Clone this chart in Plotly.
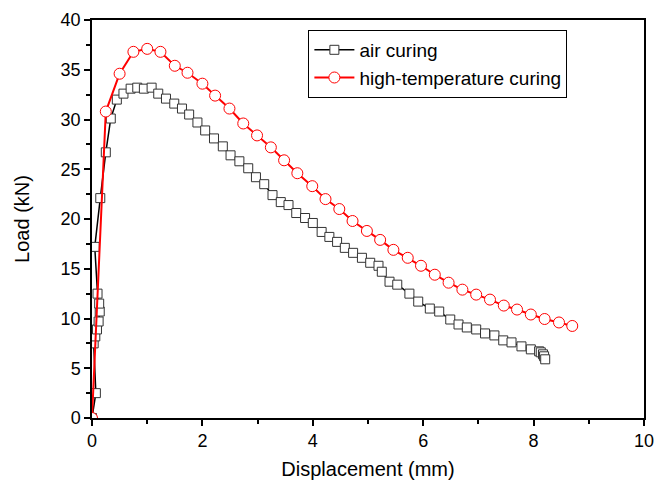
import plotly.graph_objects as go

air_x = [0.0, 0.07, 0.03, 0.06, 0.09, 0.12, 0.14, 0.13, 0.10, 0.05, 0.15, 0.25, 0.34, 0.45, 0.57, 0.70, 0.82, 0.94,
         1.08, 1.20, 1.34, 1.49, 1.63, 1.76, 1.91, 2.05, 2.21, 2.37, 2.51, 2.67, 2.83, 2.97, 3.12,
         3.27, 3.42, 3.56, 3.70, 3.86, 4.00, 4.16, 4.30, 4.44, 4.58, 4.73, 4.89, 5.04, 5.19,
         5.25, 5.39, 5.53, 5.75, 5.91, 6.12, 6.29, 6.49, 6.64, 6.79, 6.96, 7.12, 7.29, 7.45,
         7.60, 7.78, 7.95, 8.10, 8.13, 8.17, 8.19, 8.21]
air_y = [0.0, 2.5, 7.5, 8.2, 8.9, 9.7, 10.7, 11.5, 12.5, 17.2, 22.1, 26.7, 30.1, 32.0, 32.6, 33.1, 33.2, 33.1,
         33.2, 32.6, 32.1, 31.6, 31.1, 30.5, 29.7, 28.9, 28.1, 27.3, 26.4, 25.8, 25.1, 24.2, 23.5,
         22.4, 21.7, 21.4, 20.6, 20.1, 19.6, 18.7, 18.2, 17.7, 17.1, 16.6, 16.1, 15.6, 15.3,
         14.7, 13.7, 13.4, 12.5, 11.7, 11.0, 10.7, 9.9, 9.4, 9.1, 8.9, 8.5, 8.3, 7.8,
         7.6, 7.2, 6.9, 6.7, 6.6, 6.4, 6.2, 5.9]

ht_x = [0.0, 0.25, 0.50, 0.75, 1.00, 1.24, 1.50, 1.73, 2.00, 2.23, 2.49, 2.74, 2.99, 3.24, 3.48, 3.72,
        3.99, 4.23, 4.48, 4.72, 4.98, 5.22, 5.46, 5.72, 5.96, 6.21, 6.46, 6.71, 6.96, 7.21, 7.46,
        7.70, 7.95, 8.20, 8.46, 8.70]
ht_y = [0.0, 30.8, 34.6, 36.8, 37.1, 36.8, 35.4, 34.7, 33.6, 32.4, 31.1, 29.6, 28.4, 27.2, 25.9, 24.6,
        23.3, 22.0, 21.0, 19.8, 18.8, 17.9, 16.9, 16.1, 15.3, 14.4, 13.6, 12.9, 12.4, 11.9, 11.3,
        10.9, 10.4, 9.95, 9.6, 9.25]

series_names = ["air curing", "high-temperature curing"]

x_ticks = [0, 2, 4, 6, 8, 10]
y_ticks = [0, 5, 10, 15, 20, 25, 30, 35, 40]

font = "Liberation Sans, Arial, sans-serif"

fig = go.Figure()
fig.add_trace(go.Scatter(
    x=air_x, y=air_y, name=series_names[0], mode="lines+markers",
    line=dict(color="black", width=1.5),
    marker=dict(symbol="square", size=9, color="white",
                line=dict(color="#333333", width=1)),
))
fig.add_trace(go.Scatter(
    x=ht_x, y=ht_y, name=series_names[1], mode="lines+markers",
    line=dict(color="red", width=2),
    marker=dict(symbol="circle", size=11, color="white",
                line=dict(color="red", width=1)),
))

axis_common = dict(
    showgrid=False, zeroline=False, showline=True, linecolor="black", linewidth=1.5,
    mirror=True, ticks="outside", ticklen=6, tickwidth=1.5, tickcolor="black",
    tickfont=dict(family=font, size=18, color="black"), automargin=False,
    ticklabeloverflow="allow",
)

fig.update_xaxes(
    range=[0, 10], tickvals=x_ticks, ticktext=[str(v) for v in x_ticks],
    title=dict(text="Displacement (mm)", font=dict(family=font, size=20, color="black"), standoff=12),
    minor=dict(dtick=1, ticks="outside", ticklen=4, tickwidth=1.5, tickcolor="black"),
    **axis_common,
)
fig.update_yaxes(
    range=[0, 40], tickvals=y_ticks, ticktext=[str(v) for v in y_ticks],
    title=dict(text="Load (kN)", font=dict(family=font, size=20, color="black"), standoff=26),
    minor=dict(dtick=2.5, ticks="outside", ticklen=4, tickwidth=1.5, tickcolor="black"),
    **axis_common,
)

fig.update_layout(
    width=654, height=489,
    margin=dict(l=92, r=10, t=20, b=71),
    paper_bgcolor="white", plot_bgcolor="white",
    showlegend=True,
    legend=dict(
        x=0.392, y=0.975, xanchor="left", yanchor="top",
        bordercolor="black", borderwidth=1, bgcolor="white",
        font=dict(family=font, size=19, color="black"),
        itemwidth=40, tracegroupgap=0,
    ),
)

fig.write_html("out.html", config={"displayModeBar": False})

with open("out.html", "r", encoding="utf-8") as f:
    html = f.read()
html = html.replace("<head>", "<head><style>html,body{margin:0;padding:0;}</style>", 1)
with open("out.html", "w", encoding="utf-8") as f:
    f.write(html)
